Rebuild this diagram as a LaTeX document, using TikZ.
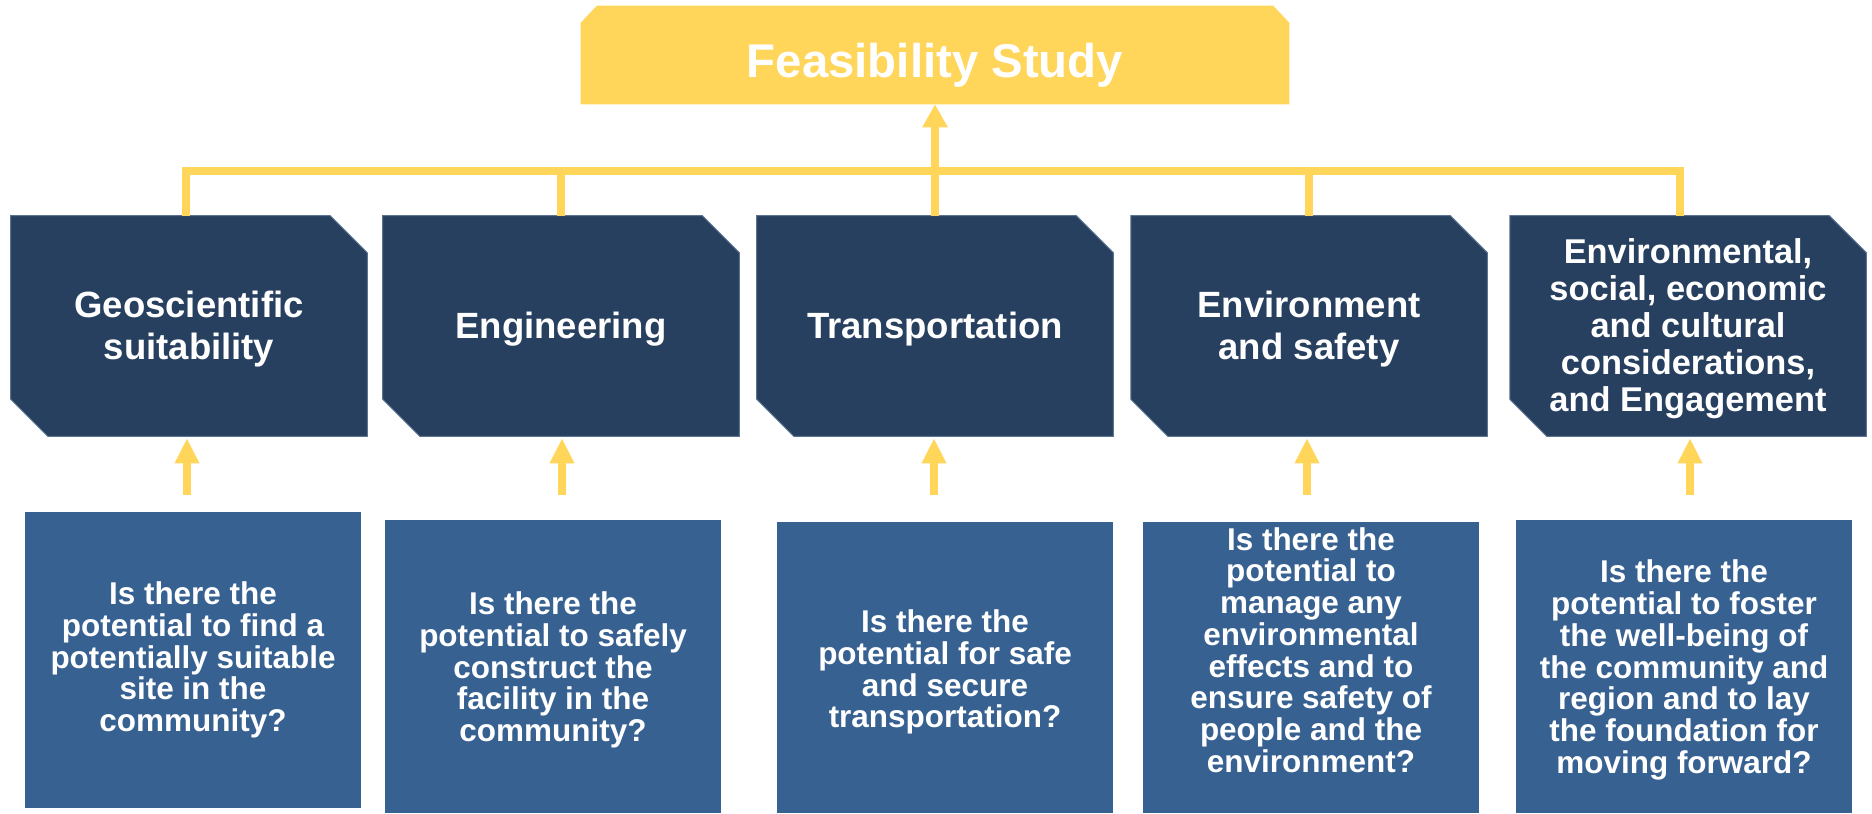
\documentclass[tikz,border=0pt]{standalone}
\usepackage{fontspec}
\setmainfont{Liberation Sans}
\usetikzlibrary{arrows.meta,backgrounds}
\definecolor{yel}{HTML}{FFD55A}
\definecolor{navy}{HTML}{27405F}
\definecolor{midblue}{HTML}{376191}
\definecolor{navyedge}{HTML}{5D7290}
\newcommand\dlift[1]{\rule{0pt}{#1}}
\begin{document}
\begin{tikzpicture}[x=0.75pt,y=-0.75pt,
  topbox/.style={minimum width=531pt, minimum height=73.5pt, inner sep=0pt, text=white,
    font=\bfseries\fontsize{35.5}{40}\selectfont, text height=42pt, text depth=7.5pt},
  dbox/.style={minimum width=267pt, minimum height=165pt, inner sep=0pt, text=white, align=center,
    font=\bfseries\fontsize{27.4}{32}\selectfont},
  qbox/.style={fill=midblue, minimum width=252pt, inner sep=0pt, anchor=north},
  qtext/.style={text=white, align=center, inner sep=0pt,
    font=\bfseries\fontsize{23.6}{23.8}\selectfont},
  yline/.style={draw=yel, line width=6pt},
  bigarrow/.style={yline, -{Triangle[width=18pt,length=17.25pt]}},
  smallarrow/.style={yline, -{Triangle[width=17.25pt,length=18.75pt]}, shorten >=1.5pt},
]
\useasboundingbox (0,0) rectangle (1872,813);
\clip (0,0) rectangle (1872,813);

% top box
\node[topbox] (top) at (935,55) {Feasibility Study};

% dark boxes
\node[dbox] (d1) at (189,326) {\dlift{24.5pt}Geoscientific\\suitability};
\node[dbox] (d2) at (561,326) {\dlift{24.5pt}Engineering};
\node[dbox] (d3) at (935,326) {\dlift{24.5pt}Transportation};
\node[dbox] (d4) at (1309,326) {\dlift{24.5pt}Environment\\and safety};
\node[dbox, font=\bfseries\fontsize{25.8}{27.75}\selectfont] (d5) at (1688,326)
  {\dlift{22.4pt}Environmental,\\social, economic\\and cultural\\considerations,\\and Engagement};

% question boxes
\node[qbox, minimum height=222pt] (q1) at (193,512) {};
\node[qbox, minimum height=219.75pt] (q2) at (553,520) {};
\node[qbox, minimum height=218.25pt] (q3) at (945,522) {};
\node[qbox, minimum height=218.25pt] (q4) at (1311,522) {};
\node[qbox, minimum height=219.75pt] (q5) at (1684,520) {};

\node[qtext] (t1) at (193,660) {Is there the\\potential to find a\\potentially suitable\\site in the\\community?};
\node[qtext] (t2) at (553,670) {Is there the\\potential to safely\\construct the\\facility in the\\community?};
\node[qtext] (t3) at (945,672) {Is there the\\potential for safe\\and secure\\transportation?};
\node[qtext] (t4) at (1311,650) {Is there the\\potential to\\manage any\\environmental\\effects and to\\ensure safety of\\people and the\\environment?};
\node[qtext] (t5) at (1684,670) {Is there the\\potential to foster\\the well-being of\\the community and\\region and to lay\\the foundation for\\moving forward?};

% backgrounds of chamfered shapes
\begin{scope}[on background layer]
  \fill[yel] (top.south west) -- ([yshift=-12.75pt]top.north west) -- ([xshift=12pt]top.north west)
    -- ([xshift=-12pt]top.north east) -- ([yshift=-12.75pt]top.north east) -- (top.south east) -- cycle;
  \foreach \n in {d1,d2,d3,d4,d5}{
    \filldraw[fill=navy, draw=navyedge, line width=0.75pt] (\n.north west) -- ([xshift=-27.75pt]\n.north east)
      -- ([yshift=-27.75pt]\n.north east) -- (\n.south east) -- ([xshift=27.75pt]\n.south west)
      -- ([yshift=27.75pt]\n.south west) -- cycle;
  }
\end{scope}

% connector bar
\coordinate (bar) at (0,171);
\coordinate (d1n) at ([xshift=-2.25pt]d1.north);
\coordinate (d5n) at ([xshift=-6pt]d5.north);
\draw[yline, line join=miter] (d1n) -- (d1n |- bar) -- (d5n |- bar) -- (d5n);
\draw[yline] (d2.north) -- (d2.north |- bar);
\draw[yline] (d4.north) -- (d4.north |- bar);
\draw[bigarrow] (d3.north) -- (d3.north |- top.south);

% small arrows
\coordinate (b1) at (187,495);
\coordinate (b2) at (562,495);
\coordinate (b3) at (934,495);
\coordinate (b4) at (1307,495);
\coordinate (b5) at (1690,495);
\draw[smallarrow] (b1) -- (b1 |- d1.south);
\draw[smallarrow] (b2) -- (b2 |- d2.south);
\draw[smallarrow] (b3) -- (b3 |- d3.south);
\draw[smallarrow] (b4) -- (b4 |- d4.south);
\draw[smallarrow] (b5) -- (b5 |- d5.south);
\end{tikzpicture}
\end{document}
